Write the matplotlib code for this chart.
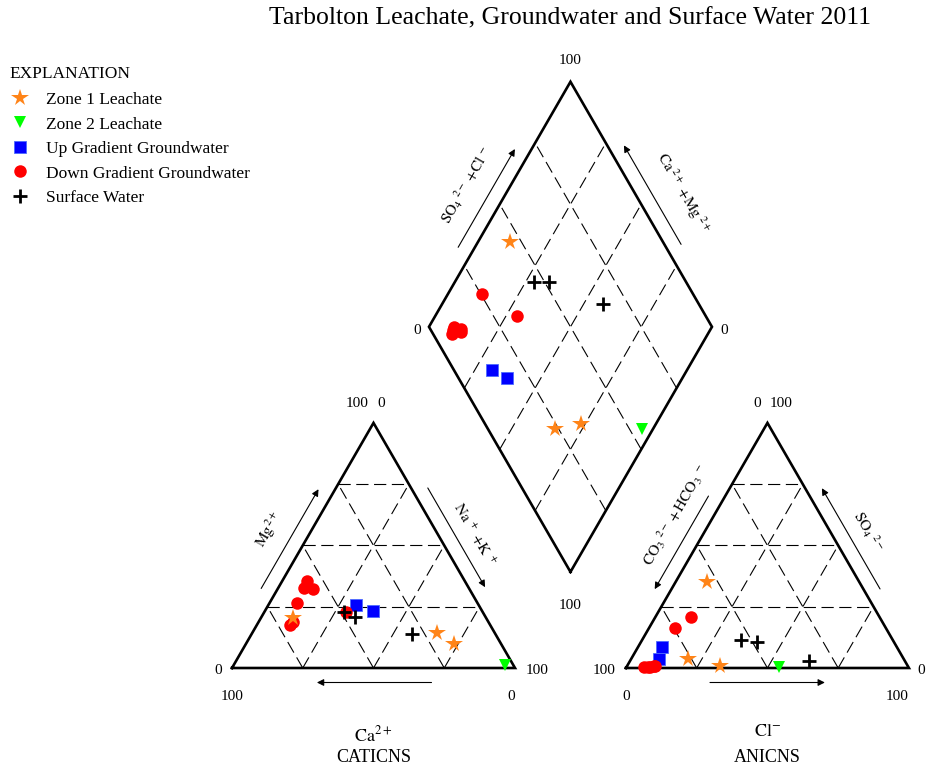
import numpy as np
import matplotlib
matplotlib.use('Agg')
import matplotlib.pyplot as plt

plt.rcParams['font.family'] = 'Liberation Serif'
plt.rcParams['mathtext.fontset'] = 'stix'

# percent of meq; Na+K and CO3+HCO3 are the remainders
zone1_ca = [68.4, 20.6, 16.6]
zone1_mg = [20.3, 14.2, 9.8]
zone1_so4 = [35.2, 3.6, 0.8]
zone1_cl = [10.9, 20.0, 33.0]

zone2_ca = [2.8]
zone2_mg = [1.2]
zone2_so4 = [0.3]
zone2_cl = [54.0]

up_ca = [43.3, 38.6]
up_mg = [25.7, 23.4]
up_so4 = [3.6, 8.7]
up_cl = [9.8, 8.4]

down_ca = [55.6, 58.3, 55.5, 63.8, 68.9, 70.8, 48.2]
down_mg = [35.6, 32.5, 32.1, 26.6, 18.9, 17.5, 23.0]
down_so4 = [0.5, 0.4, 0.8, 0.3, 16.4, 0.8, 20.9]
down_cl = [8.3, 7.5, 9.5, 6.2, 9.1, 10.0, 12.5]

sw_ca = [49.1, 46.2, 29.3]
sw_mg = [22.7, 20.7, 13.9]
sw_so4 = [11.4, 10.7, 3.0]
sw_cl = [34.9, 40.9, 63.2]

GAP = 39.2          # space between the two triangles
H = np.sqrt(3) / 2
PX = 2.83           # pixels per percent


def cation_xy(ca, mg):
    ca, mg = np.asarray(ca, float), np.asarray(mg, float)
    nak = 100 - ca - mg
    return nak + mg / 2, mg * H


def anion_xy(so4, cl):
    so4, cl = np.asarray(so4, float), np.asarray(cl, float)
    return 100 + GAP + cl + so4 / 2, so4 * H


def diamond_xy(ca, mg, so4, cl):
    c = (np.asarray(ca, float) + np.asarray(mg, float)) / 100
    s = (np.asarray(so4, float) + np.asarray(cl, float)) / 100
    return 100 + GAP / 2 + 50 * (s - c), GAP * H + 100 * H * (s + c)


def edge_point(p0, p1, t, off):
    p0, p1 = np.asarray(p0, float), np.asarray(p1, float)
    d = p1 - p0
    n = np.array([-d[1], d[0]]) / np.hypot(*d)
    return p0 + t * d + off / PX * n


fig = plt.figure(figsize=(9.28, 7.71), dpi=100)
ax = fig.add_axes([0, 0, 1, 1])
ax.set_xlim(-232 / PX, (928 - 232) / PX)
ax.set_ylim((668 - 771) / PX, 668 / PX)
ax.axis('off')

# vertices
cL, cR, cT = (0, 0), (100, 0), (50, 100 * H)
aL, aR, aT = (100 + GAP, 0), (200 + GAP, 0), (150 + GAP, 100 * H)
dB = (100 + GAP / 2, GAP * H)
dL = (50 + GAP / 2, GAP * H + 50 * 2 * H)
dR = (150 + GAP / 2, GAP * H + 50 * 2 * H)
dT = (100 + GAP / 2, GAP * H + 200 * H)

grid_kw = dict(color='k', lw=0.8, dashes=(11, 5))
ticks = [0.25, 0.5, 0.75]

for L, R, T in [(cL, cR, cT), (aL, aR, aT)]:
    L, R, T = np.array(L), np.array(R), np.array(T)
    for t in ticks:
        a, b = L + t * (T - L), R + t * (T - R)
        ax.plot([a[0], b[0]], [a[1], b[1]], **grid_kw)
        p = L + t * (R - L)
        ax.plot([p[0], p[0] + (1 - t) * (T - L)[0]], [p[1], p[1] + (1 - t) * (T - L)[1]], **grid_kw)
        ax.plot([p[0], p[0] + t * (T - R)[0]], [p[1], p[1] + t * (T - R)[1]], **grid_kw)
    ax.plot([L[0], R[0], T[0], L[0]], [L[1], R[1], T[1], L[1]], color='k', lw=1.9,
            solid_joinstyle='miter')

B, Lv, Rv, T = map(np.array, (dB, dL, dR, dT))
for t in ticks:
    a = B + t * (Lv - B)
    b = a + (Rv - B)
    ax.plot([a[0], b[0]], [a[1], b[1]], **grid_kw)
    a = B + t * (Rv - B)
    b = a + (Lv - B)
    ax.plot([a[0], b[0]], [a[1], b[1]], **grid_kw)
ax.plot([B[0], Rv[0], T[0], Lv[0], B[0]], [B[1], Rv[1], T[1], Lv[1], B[1]], color='k', lw=1.9,
        solid_joinstyle='miter')

# samples
series = [
    ('Zone 1 Leachate', zone1_ca, zone1_mg, zone1_so4, zone1_cl,
     dict(marker='*', color='#FF8418', ms=13, mew=0, zorder=5)),
    ('Zone 2 Leachate', zone2_ca, zone2_mg, zone2_so4, zone2_cl,
     dict(marker='v', color='#00FF00', ms=8.5, mew=0, zorder=5)),
    ('Up Gradient Groundwater', up_ca, up_mg, up_so4, up_cl,
     dict(marker='s', color='#0000FF', mec='#4D6BFF', ms=9, mew=0.6, zorder=3)),
    ('Down Gradient Groundwater', down_ca, down_mg, down_so4, down_cl,
     dict(marker='o', color='#FF0000', ms=9, mew=0, zorder=4)),
    ('Surface Water', sw_ca, sw_mg, sw_so4, sw_cl,
     dict(marker='+', color='k', ms=10, mew=2, zorder=6)),
]

handles = []
for name, ca, mg, so4, cl, kw in series:
    x, y = cation_xy(ca, mg)
    h, = ax.plot(x, y, ls='none', label=name, **kw)
    x, y = anion_xy(so4, cl)
    ax.plot(x, y, ls='none', **kw)
    x, y = diamond_xy(ca, mg, so4, cl)
    ax.plot(x, y, ls='none', **kw)
    handles.append(h)

fs = 11
txt = dict(fontsize=fs, ha='center', va='center')


def corner(p, dx, dy, s):
    ax.text(p[0] + dx / PX, p[1] - dy / PX, s, **txt)


corner(cT, -16, -19, '100')
corner(cT, 8, -19, '0')
corner(cL, -14, 3, '0')
corner(cR, 22, 3, '100')
corner(cL, 0, 28, '100')
corner(cR, -4, 28, '0')

corner(aT, -10, -19, '0')
corner(aT, 14, -19, '100')
corner(aL, -22, 3, '100')
corner(aR, 12, 3, '0')
corner(aL, 0, 28, '0')
corner(aR, -12, 28, '100')

corner(dT, 0, -21, '100')
corner(dL, -12, 4, '0')
corner(dR, 12, 4, '0')
corner(dB, 0, 34, '100')


def edge_label(p0, p1, t0, t1, ta, off, s):
    a = edge_point(p0, p1, t0, 14.5)
    b = edge_point(p0, p1, t1, 14.5)
    ax.annotate('', xy=b, xytext=a,
                arrowprops=dict(arrowstyle='-|>', lw=0.8, color='k',
                                mutation_scale=10, shrinkA=0, shrinkB=0))
    if s:
        d = np.asarray(p1, float) - np.asarray(p0, float)
        ang = np.degrees(np.arctan2(d[1], d[0]))
        if ang > 90 or ang < -90:
            ang += 180
        q = edge_point(p0, p1, ta, off)
        ax.text(q[0], q[1], s, rotation=ang, rotation_mode='anchor', **txt)


edge_label(cL, cT, 0.295, 0.70, 0.49, 37, r'$\mathrm{Mg}^{\,2+}$')
edge_label(cT, cR, 0.295, 0.70, 0.52, 32, r'$\mathrm{Na}^{\ +}\ \mathrm{+K}^{\ +}$')
edge_label(cR, cL, 0.295, 0.70, 0.5, 0, '')

edge_label(aL, aT, 0.672, 0.292, 0.555, 34, r'$\mathrm{CO_3}^{\ 2-}\ \mathrm{+\,HCO_3}^{\ -}$')
edge_label(aT, aR, 0.707, 0.296, 0.51, 33, r'$\mathrm{SO_4}^{\ 2-}$')
edge_label(aR, aL, 0.703, 0.297, 0.5, 0, '')

edge_label(dL, dT, 0.295, 0.696, 0.50, 38, r'$\mathrm{SO_4}^{\ 2-}\ \mathrm{+Cl}^{\ -}$')
edge_label(dT, dR, 0.693, 0.289, 0.54, 42, r'$\mathrm{Ca}^{\ 2+}\ \mathrm{+Mg}^{\ 2+}$')

big = dict(fontsize=13, ha='center', va='center')
ax.text(50, -67 / PX, r'$\mathrm{Ca}^{2+}$', **big)
ax.text(50, -89 / PX, 'CATICNS', **big)
ax.text(150 + GAP, -63 / PX, r'$\mathrm{Cl}^{-}$', **big)
ax.text(150 + GAP, -89 / PX, 'ANICNS', **big)

fig.text(570 / 928, 1 - 18 / 771, 'Tarbolton Leachate, Groundwater and Surface Water 2011',
         fontsize=18.5, ha='center', va='center')

lfs = 12.5
leg = fig.legend(handles=handles, loc='upper left', bbox_to_anchor=(4.5 / 928, 1 - 61 / 771),
                 title='EXPLANATION', title_fontsize=lfs, fontsize=lfs, frameon=False,
                 alignment='left', handlelength=1.2, handletextpad=0.9, labelspacing=0.48,
                 borderaxespad=0, borderpad=0.3, numpoints=1)
leg._legend_box.sep = 7

fig.savefig('out.png', dpi=100)
